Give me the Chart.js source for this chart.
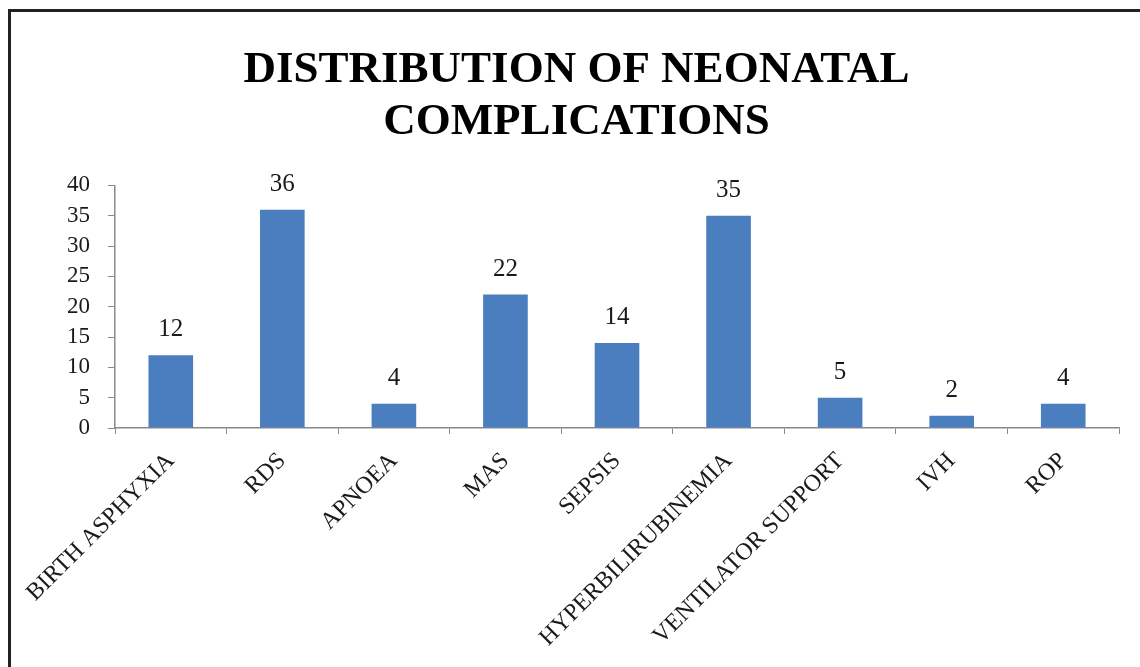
<!DOCTYPE html>
<html>
<head>
<meta charset="utf-8">
<script src="https://cdn.jsdelivr.net/npm/chart.js@4.4.0/dist/chart.umd.min.js"></script>
<style>
  html, body { margin: 0; padding: 0; background: #ffffff; }
  #wrap { position: relative; width: 1140px; height: 667px; overflow: hidden; }
  #frame { position: absolute; left: 8px; top: 9px; width: 1200px; height: 700px; border-left: 3px solid #222; border-top: 3px solid #222; }
  canvas { position: absolute; left: 0; top: 0; }
</style>
</head>
<body>
<div id="wrap">
  <div id="frame"></div>
  <canvas id="c" width="1140" height="667"></canvas>
</div>
<script>
const titleLines = ['DISTRIBUTION OF NEONATAL', 'COMPLICATIONS'];
const categories = ['BIRTH ASPHYXIA', 'RDS', 'APNOEA', 'MAS', 'SEPSIS', 'HYPERBILIRUBINEMIA', 'VENTILATOR SUPPORT', 'IVH', 'ROP'];
const values = [12, 36, 4, 22, 14, 35, 5, 2, 4];
const yMin = 0, yMax = 40, yStep = 5;

const serif = "'Liberation Serif', 'DejaVu Serif', serif";

const valueLabels = {
  id: 'valueLabels',
  afterDatasetsDraw(chart) {
    const ctx = chart.ctx;
    const meta = chart.getDatasetMeta(0);
    ctx.save();
    ctx.font = "25px " + serif;
    ctx.fillStyle = '#1a1a1a';
    ctx.textAlign = 'center';
    ctx.textBaseline = 'alphabetic';
    meta.data.forEach((bar, i) => {
      ctx.fillText(String(chart.data.datasets[0].data[i]), bar.x, bar.y - 19);
    });
    ctx.restore();
  }
};

new Chart(document.getElementById('c'), {
  type: 'bar',
  data: {
    labels: categories,
    datasets: [{
      data: values,
      backgroundColor: '#4a7ebf',
      borderWidth: 0,
      barPercentage: 0.4,
      categoryPercentage: 1.0
    }]
  },
  options: {
    responsive: false,
    animation: false,
    devicePixelRatio: 1,
    layout: { padding: { left: 34, right: 21, top: 44, bottom: 0 } },
    plugins: {
      legend: { display: false },
      tooltip: { enabled: false },
      title: {
        display: true,
        text: titleLines,
        color: '#000',
        font: { family: serif, size: 45, weight: 'bold', lineHeight: 1.16 },
        padding: { top: 0, bottom: 37 }
      }
    },
    scales: {
      x: {
        offset: true,
        grid: { display: true, drawOnChartArea: false, offset: true, tickLength: 6, color: '#8a8a8a' },
        border: { display: true, color: '#8a8a8a', width: 1.5 },
        ticks: {
          autoSkip: false, maxRotation: 45, minRotation: 45,
          color: '#1a1a1a', font: { family: serif, size: 24 }, padding: 13
        },
        afterFit(s) { s.height = 239; }
      },
      y: {
        min: yMin, max: yMax,
        grid: { display: true, drawOnChartArea: false, tickLength: 7, color: '#8a8a8a' },
        border: { display: true, color: '#8a8a8a', width: 1.5 },
        ticks: { stepSize: yStep, autoSkip: false, color: '#1a1a1a', font: { family: serif, size: 23, lineHeight: 1 }, padding: 18 },
        afterFit(s) { s.width = 81; }
      }
    }
  },
  plugins: [valueLabels]
});
</script>
</body>
</html>
